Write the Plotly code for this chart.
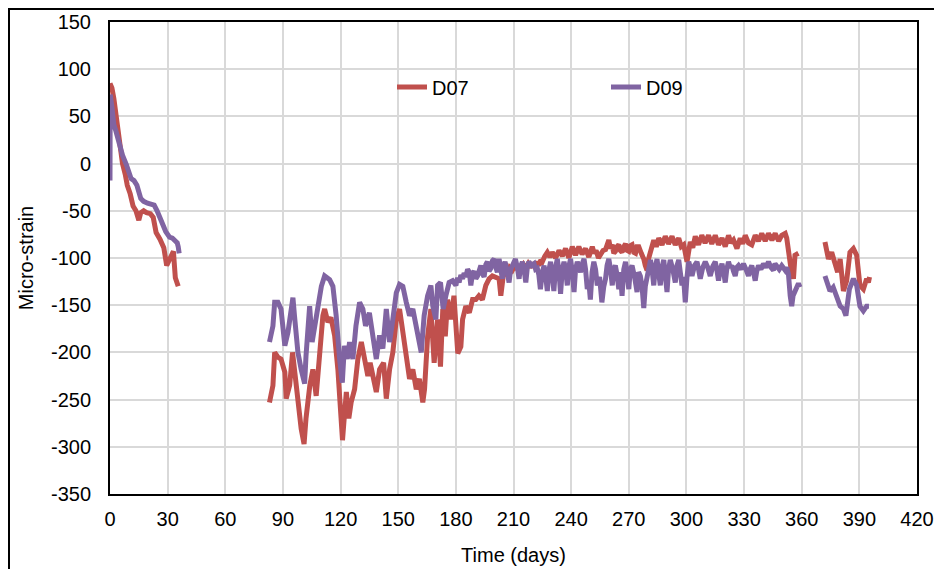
import plotly.graph_objects as go

# ---- D07 (red): (day, micro-strain) readings, three recording periods ----
d07_seg1 = [(0, 85), (1, 80), (2, 69), (3, 55), (4, 34), (5, 20), (6.5, 0), (8, -12), (9, -23), (10.5, -32), (12, -45),
            (13.5, -50), (15, -60), (16, -52), (17.5, -50), (19, -52), (21, -53), (22.5, -57), (24, -73), (26, -80),
            (28, -89), (29.5, -108), (31, -101), (33, -93), (34, -121), (35, -126), (35.5, -130)]

d07_seg2 = [(83, -253), (84.8, -235), (85.7, -200), (87.4, -205), (89, -207), (91, -221), (91.7, -249), (93.5, -235),
            (95, -200), (96, -218), (97.8, -256), (99.5, -281), (101, -297), (102, -270), (104, -235), (105.6, -218),
            (107.3, -246), (109, -200), (110.8, -161), (111.7, -154), (113.4, -168), (115, -163), (116.9, -182),
            (118.6, -218), (119.5, -256), (121, -293), (122, -267), (123, -242), (124.3, -270), (125.5, -253),
            (127.3, -239), (129, -207), (130.8, -189), (132.5, -207), (134.2, -225), (135.4, -211), (136.8, -228),
            (138.6, -242), (140.3, -218), (142.4, -211), (143.8, -249), (145.5, -218), (147.2, -200), (149, -165),
            (150.7, -154), (152, -172), (154.2, -200), (155.9, -228), (157.6, -218), (159.4, -239), (161, -228),
            (162.8, -253), (163.7, -239), (165.3, -183), (167, -154), (168.7, -211), (170.5, -165), (172, -215),
            (173.2, -154), (174.5, -183), (175.7, -144), (177.4, -165), (179, -140), (181, -201), (182.6, -194),
            (183.5, -165), (185.2, -151), (187, -158), (188.7, -144), (190.4, -144), (192, -140), (193.8, -144),
            (195.6, -129), (197.3, -122), (199, -119), (200.8, -120), (202.5, -122), (203.4, -140), (204.6, -120),
            (205.7, -114), (206.8, -116), (208, -110), (209.4, -113), (210.7, -108), (212, -112), (213, -107),
            (214, -111), (215.2, -107), (216.4, -111), (217.7, -106), (219, -110), (220, -105), (221, -109),
            (222, -104), (223.3, -108), (224.2, -102), (225, -104), (226.3, -98), (227.6, -94), (228.9, -99),
            (230.2, -94), (231.9, -100), (233.7, -92), (235.4, -98), (237.1, -90), (238.8, -100), (240.6, -88),
            (242.3, -97), (244, -88), (245.7, -96), (247.5, -90), (249.2, -99), (251, -88), (252, -95), (253, -92),
            (254.2, -100), (255.3, -97), (256.6, -92), (257.9, -91), (258.7, -86), (259.6, -81), (260.5, -90),
            (261.4, -86), (262.2, -95), (263, -93), (263.9, -88), (264.8, -86), (265.6, -92), (266.5, -94),
            (267.4, -88), (268.3, -85), (269.1, -92), (270, -93), (270.8, -87), (271.7, -86), (272.6, -94),
            (273.5, -95), (274.3, -88), (275.2, -88), (276.5, -95), (277.8, -101), (278.6, -108), (279.5, -113),
            (280.4, -100), (281.3, -94), (282.1, -86), (283, -81), (284.3, -88), (285.6, -79), (287.3, -86),
            (289, -77), (290.7, -85), (292.5, -77), (294.2, -86), (296, -79), (297.3, -88), (298.6, -86),
            (300.3, -104), (302, -83), (303.3, -89), (304.6, -77), (306.3, -86), (308, -76), (309.7, -84),
            (311.5, -76), (313.2, -85), (315, -76), (316.7, -86), (318.5, -79), (320.2, -88), (321.9, -76),
            (323.2, -84), (324.5, -81), (326.3, -90), (328, -79), (329.3, -85), (330.6, -76), (332.3, -84),
            (334, -86), (335.8, -76), (337.5, -82), (339.2, -74), (341, -82), (342.7, -74), (344.5, -81),
            (346.2, -74), (348, -82), (349.6, -76), (351.4, -74), (352.2, -79), (353.4, -101), (354.4, -111),
            (355.7, -122), (356.5, -97), (358.3, -95)]

d07_seg3 = [(372.1, -83), (373.9, -101), (375.6, -94), (377.3, -108), (378.7, -115), (380, -101), (381.7, -135),
            (383.4, -124), (385.1, -94), (386.9, -90), (388.6, -97), (390.3, -129), (392.1, -133), (393.8, -122),
            (394.7, -126), (395.3, -120)]

# ---- D09 (purple) ----
d09_seg1 = [(0, -18), (0.1, 73), (1, 60), (2, 41), (3, 35), (4, 27), (5, 18), (6.5, 9), (8.5, -1), (11, -16),
            (12.5, -18), (14, -23), (16, -37), (17.5, -40), (19.5, -42), (21, -43), (23, -44), (24.5, -50), (26, -58),
            (27.5, -65), (29, -72), (31, -78), (32.5, -79), (34, -82), (35, -84), (35.5, -88), (36, -95)]

d09_seg2 = [(83, -189), (84.8, -172), (85.7, -147), (87.4, -147), (89, -154), (91, -193), (92.6, -179), (93.5, -165),
            (95.2, -142), (96, -161), (97.8, -200), (99.5, -218), (101.3, -233), (102, -204), (103.9, -151),
            (105.2, -189), (106.5, -172), (108.2, -147), (110, -130), (111.7, -119), (114.3, -123), (116, -130),
            (117.7, -161), (119.5, -207), (120.9, -232), (122, -193), (123.5, -207), (124.7, -189), (126.4, -207),
            (128, -172), (129.9, -147), (131.6, -154), (133, -172), (135, -158), (136.8, -182), (138.6, -207),
            (140.3, -182), (142, -196), (143.8, -154), (145.5, -189), (147.2, -165), (149, -137), (150.7, -128),
            (152.4, -130), (154.2, -147), (155.9, -161), (157.6, -154), (159.4, -172), (161, -193), (162, -200),
            (163.5, -161), (165.3, -140), (167, -129), (168, -151), (169.6, -165), (170.5, -129), (172, -126),
            (173.4, -154), (174.8, -140), (176.5, -126), (178.3, -124), (180, -129), (180.9, -121), (181.7, -126),
            (182.6, -118), (183.5, -122), (184.3, -116), (185.2, -120), (186.1, -112), (187, -115), (187.8, -129),
            (188.7, -116), (189.5, -114), (190.4, -122), (191.3, -119), (192.2, -110), (193, -108), (193.9, -117),
            (194.7, -120), (195.6, -107), (196.4, -104), (197.3, -114), (198.2, -111), (199, -103), (199.9, -101),
            (200.8, -110), (201.6, -115), (202.5, -101), (203.4, -112), (204.2, -122), (204.9, -108), (205.6, -104),
            (206.6, -113), (207.7, -126), (208.5, -112), (209.4, -108), (210.2, -103), (211, -101), (212, -110),
            (212.9, -122), (213.7, -109), (214.6, -104), (215.5, -112), (216.4, -126), (217.2, -110), (218, -104),
            (219.4, -108), (220.7, -106), (221.5, -112), (222.4, -111), (223.2, -118), (224, -133), (225, -115),
            (225.9, -108), (226.8, -120), (227.6, -135), (228.5, -112), (229.3, -104), (230.2, -118), (231, -135),
            (231.9, -110), (232.8, -101), (233.7, -115), (234.5, -138), (235.4, -112), (236.3, -104), (237.1, -112),
            (238, -129), (238.9, -108), (239.7, -101), (240.6, -115), (241.5, -136), (242.3, -112), (243.2, -104),
            (244, -110), (244.9, -115), (245.8, -106), (246.7, -101), (247.5, -112), (248.4, -133), (249.2, -125),
            (250, -144), (250.9, -115), (251.8, -104), (252.7, -112), (253.6, -129), (254.8, -120), (256, -147),
            (257, -130), (257.9, -122), (258.7, -108), (259.6, -101), (260.5, -112), (261.4, -129), (262.2, -112),
            (263, -108), (263.9, -118), (264.8, -133), (265.6, -115), (266.5, -140), (267.4, -112), (268.3, -104),
            (269.1, -115), (270, -133), (270.8, -112), (271.7, -108), (273, -120), (274.3, -136), (275.1, -115),
            (276, -119), (276.9, -130), (277.8, -153), (278.6, -130), (279.5, -122), (280.4, -110), (281.3, -102),
            (282.1, -112), (283, -129), (283.8, -110), (284.7, -101), (285.5, -115), (286.4, -129), (287.3, -110),
            (288.2, -102), (289, -118), (289.9, -136), (290.7, -112), (291.6, -102), (292.9, -112), (294.2, -126),
            (295.1, -108), (296, -102), (296.8, -115), (297.7, -129), (298.5, -120), (299.4, -147), (300.3, -120),
            (301.2, -104), (302, -110), (302.9, -119), (304.2, -108), (305.5, -104), (306.3, -112), (307.2, -122),
            (308.5, -110), (309.8, -104), (311.1, -110), (312.4, -119), (313.7, -109), (315, -104), (315.8, -112),
            (316.7, -124), (317.6, -112), (318.5, -106), (319.3, -114), (320.2, -126), (321, -112), (321.9, -104),
            (322.8, -110), (323.7, -108), (324.5, -114), (325.4, -119), (326.2, -110), (327.1, -108), (328.4, -112),
            (329.7, -106), (331, -112), (332.3, -119), (333.1, -112), (334, -108), (334.9, -115), (335.8, -124),
            (336.6, -114), (337.5, -108), (338.8, -112), (340.1, -106), (341.4, -110), (342.7, -104), (344, -110),
            (345.3, -113), (346.1, -106), (347, -108), (348.3, -112), (349.6, -108), (350.5, -112), (351.4, -113),
            (352.2, -110), (353.1, -117), (354, -140), (354.8, -151), (355.5, -140), (356.2, -136), (357.4, -129),
            (358.3, -127), (359.1, -131)]

d09_seg3 = [(372.1, -119), (373, -124), (374.7, -135), (376.4, -131), (378.2, -140), (380, -151), (381.7, -154),
            (383, -161), (384.8, -133), (386.9, -122), (388.6, -129), (390.3, -151), (392.1, -156), (393.8, -151),
            (395, -151)]

x_ticks = list(range(0, 421, 30))
y_ticks = list(range(-350, 151, 50))
y_tick_text = [str(v) for v in y_ticks]   # plain hyphen minus, as in the original


def join(*segs):
    """Concatenate recording periods, with a gap (None) between them."""
    xs, ys = [], []
    for i, seg in enumerate(segs):
        if i:
            xs.append(None)
            ys.append(None)
        xs.extend(t for t, _ in seg)
        ys.extend(v for _, v in seg)
    return xs, ys


FONT = "Arial, Liberation Sans, sans-serif"
RED = "#C0504D"
PURPLE = "#8064A2"

fig = go.Figure()
x07, y07 = join(d07_seg1, d07_seg2, d07_seg3)
x09, y09 = join(d09_seg1, d09_seg2, d09_seg3)
fig.add_trace(go.Scatter(x=x07, y=y07, mode="lines", name="D07", line=dict(color=RED, width=5)))
fig.add_trace(go.Scatter(x=x09, y=y09, mode="lines", name="D09", line=dict(color=PURPLE, width=5)))

# the page body has an 8px margin, so the figure is sized to sit inside it
W, H = 934, 561
L, R, T, B = 102, 25, 14, 75
pw, ph = W - L - R, H - T - B

fig.update_layout(
    width=W, height=H,
    margin=dict(l=L, r=R, t=T, b=B, autoexpand=False),
    paper_bgcolor="white", plot_bgcolor="white",
    font=dict(family=FONT, size=20, color="black"),
    showlegend=True,
    legend=dict(orientation="h", x=(384 - L) / pw, y=1 - (79 - T) / ph, xanchor="left", yanchor="middle",
                entrywidth=169, entrywidthmode="pixels", bgcolor="rgba(0,0,0,0)",
                font=dict(family=FONT, size=20, color="black")),
    xaxis=dict(range=[0, 420], tickvals=x_ticks, showgrid=True, gridcolor="#D9D9D9", gridwidth=1.5,
               zeroline=False, showline=True, linecolor="black", linewidth=2, mirror=True, automargin=False,
               ticks="", ticklabelstandoff=6, tickfont=dict(family=FONT, size=20),
               title=dict(text="Time (days)", font=dict(family=FONT, size=20), standoff=19)),
    yaxis=dict(range=[-350, 150], tickvals=y_ticks, ticktext=y_tick_text, showgrid=True, gridcolor="#D9D9D9",
               gridwidth=1.5, zeroline=False, showline=True, linecolor="black", linewidth=2, mirror=True,
               automargin=False, ticks="", ticklabelstandoff=13, tickfont=dict(family=FONT, size=20),
               title=dict(text="Micro-strain", font=dict(family=FONT, size=20), standoff=12)),
)

# outer frame of the figure
fig.add_shape(type="rect", xref="paper", yref="paper",
              x0=(1 - L) / pw, x1=(960 - L) / pw, y0=-(600 - T - ph) / ph, y1=1 + (T - 1) / ph,
              line=dict(color="black", width=2), fillcolor="rgba(0,0,0,0)", layer="above")

fig.write_html("out.html")
